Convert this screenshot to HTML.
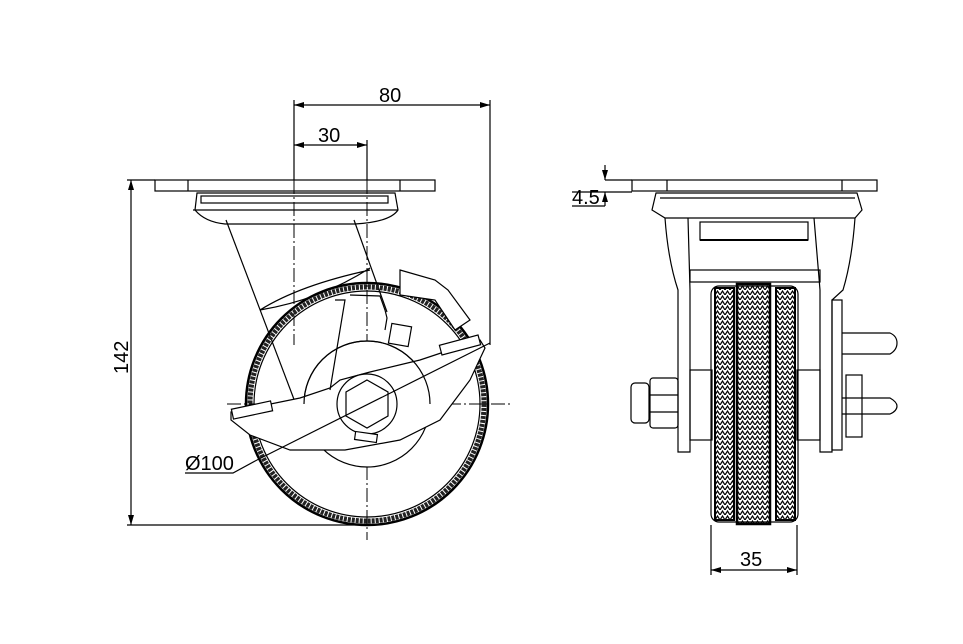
<!DOCTYPE html>
<html><head><style>
html,body{margin:0;padding:0;background:#fff;}
svg{display:block;}
text{font-family:"Liberation Sans",sans-serif;font-size:20px;fill:#000;}
</style></head><body>
<svg width="963" height="644" viewBox="0 0 963 644" xmlns="http://www.w3.org/2000/svg">
<defs>
<marker id="a" viewBox="0 0 10 6" refX="10" refY="3" markerWidth="10" markerHeight="6" orient="auto-start-reverse" markerUnits="userSpaceOnUse"><path d="M0,0 L10,3 L0,6z" fill="#000"/></marker>
<pattern id="hb" width="5" height="5" patternUnits="userSpaceOnUse"><path d="M0,5 L2.5,1 L5,5" fill="none" stroke="#000" stroke-width="1.2"/></pattern>
</defs>
<g fill="none" stroke="#000" stroke-width="1.2">
<!-- LEFT VIEW -->
<line x1="294" y1="100" x2="294" y2="180"/>
<line x1="490" y1="100" x2="490" y2="345"/>
<line x1="294" y1="105" x2="490" y2="105" marker-start="url(#a)" marker-end="url(#a)"/>
<line x1="367" y1="140" x2="367" y2="180"/>
<line x1="294" y1="145" x2="367" y2="145" marker-start="url(#a)" marker-end="url(#a)"/>
<line x1="127" y1="180" x2="155" y2="180"/>
<line x1="127" y1="525" x2="367" y2="525"/>
<line x1="131" y1="180" x2="131" y2="525" marker-start="url(#a)" marker-end="url(#a)"/>
<line x1="294" y1="180" x2="294" y2="345" stroke-dasharray="14,3,2,3" stroke-width="1"/>
<line x1="367" y1="180" x2="367" y2="540" stroke-dasharray="14,3,2,3" stroke-width="1"/>
<line x1="227" y1="404" x2="510" y2="404" stroke-dasharray="14,3,2,3" stroke-width="1"/>
<rect x="155" y="180" width="280" height="11"/>
<line x1="188" y1="180" x2="188" y2="191"/><line x1="400" y1="180" x2="400" y2="191"/>
<path d="M197,193 L195,210 Q205,222 225,224 L355,224 Q390,222 398,210 L395,193 Z"/>
<rect x="201" y="196" width="187" height="7"/>
<line x1="193" y1="210" x2="398" y2="210"/>
<path d="M226,220 L295,402"/><path d="M354,220 L387,312"/>
<path d="M260,310 Q300,285 370,270 M260,310 Q320,300 370,268"/>
<circle cx="367" cy="404" r="121" stroke-width="2.5"/>
<circle cx="367" cy="404" r="113" stroke-width="1.2"/>
<circle cx="367" cy="404" r="117" stroke-width="5" stroke="#222" stroke-dasharray="3,1"/>
<circle cx="367" cy="404" r="63" fill="#fff"/>
<path d="M231,412 L300,398 L330,388 L340,380 L370,372 L420,360 L480,340 L485,348 L470,380 L440,420 L400,440 L345,450 L290,450 L250,435 L231,420 Z" fill="#fff"/>
<path d="M304,404 A63,63 0 0 1 430,404" />
<circle cx="367" cy="404" r="30" fill="#fff"/>
<polygon points="367,380 388,392 388,416 367,428 346,416 346,392" fill="#fff"/>
<line x1="257" y1="460" x2="490" y2="343"/>
<path d="M335,300 L345,300 L330,390"/>
<path d="M350,295 L380,296 L385,310 L387,318 L385,330"/>
<path d="M400,270 L435,280 L448,290 L470,320 L455,330 L435,300 L400,295 Z" fill="#fff"/>
<rect x="390" y="325" width="20" height="20" transform="rotate(10 400 335)"/>
<rect x="232" y="405" width="40" height="10" transform="rotate(-12 252 410)" fill="#fff"/>
<rect x="440" y="340" width="40" height="10" transform="rotate(-15 460 345)" fill="#fff"/>
<rect x="355" y="433" width="22" height="8" transform="rotate(8 366 437)" fill="#fff"/>
<polyline points="185,473 233,473 257,460"/>
<!-- RIGHT VIEW -->
<line x1="605" y1="180" x2="632" y2="180"/><line x1="572" y1="192" x2="632" y2="192"/>
<line x1="572" y1="206" x2="605" y2="206"/>
<line x1="605" y1="165" x2="605" y2="180" marker-end="url(#a)"/>
<line x1="605" y1="206" x2="605" y2="192" marker-end="url(#a)"/>
<rect x="632" y="180" width="245" height="11"/>
<line x1="667" y1="180" x2="667" y2="191"/><line x1="842" y1="180" x2="842" y2="191"/>
<path d="M656,193 L652,210 L665,218 L855,218 L862,210 L857,193 Z"/>
<line x1="660" y1="198" x2="855" y2="198"/>
<path d="M665,218 Q668,260 678,290 L678,452 L690,452 L690,290 L688,218"/>
<path d="M855,218 Q852,260 843,290 L832,300 L832,452 L820,452 L820,290 L814,218"/>
<rect x="700" y="222" width="108" height="18"/>
<line x1="700" y1="240" x2="808" y2="240" stroke-width="2"/>
<rect x="690" y="270" width="130" height="12"/>
<rect x="690" y="370" width="22" height="70"/>
<rect x="797" y="370" width="23" height="70"/>
<rect x="711" y="286" width="87" height="236" rx="8"/>
<rect x="715" y="288" width="19" height="232" fill="url(#hb)" stroke-width="2"/>
<rect x="737" y="284" width="33" height="240" fill="url(#hb)" stroke-width="2.5"/>
<rect x="776" y="288" width="19" height="232" fill="url(#hb)" stroke-width="2"/>
<rect x="631" y="383" width="18" height="40" rx="4"/>
<rect x="650" y="378" width="28" height="50" rx="3"/>
<line x1="650" y1="395" x2="678" y2="395"/><line x1="650" y1="412" x2="678" y2="412"/>
<path d="M842,333 L890,333 Q897,336 897,343 Q897,350 890,354 L842,354"/>
<path d="M842,398 L890,398 Q897,402 897,406 Q897,411 890,414 L842,414"/>
<rect x="832" y="300" width="10" height="150"/>
<rect x="846" y="375" width="16" height="62"/>
<line x1="711" y1="525" x2="711" y2="575"/><line x1="797" y1="525" x2="797" y2="575"/>
<line x1="711" y1="570" x2="797" y2="570" marker-start="url(#a)" marker-end="url(#a)"/>
</g>
<text x="379" y="102">80</text>
<text x="318" y="142">30</text>
<text x="0" y="0" transform="translate(128,374) rotate(-90)">142</text>
<text x="185" y="470">Ø100</text>
<text x="572" y="204">4.5</text>
<text x="740" y="566">35</text>
</svg>
</body></html>
